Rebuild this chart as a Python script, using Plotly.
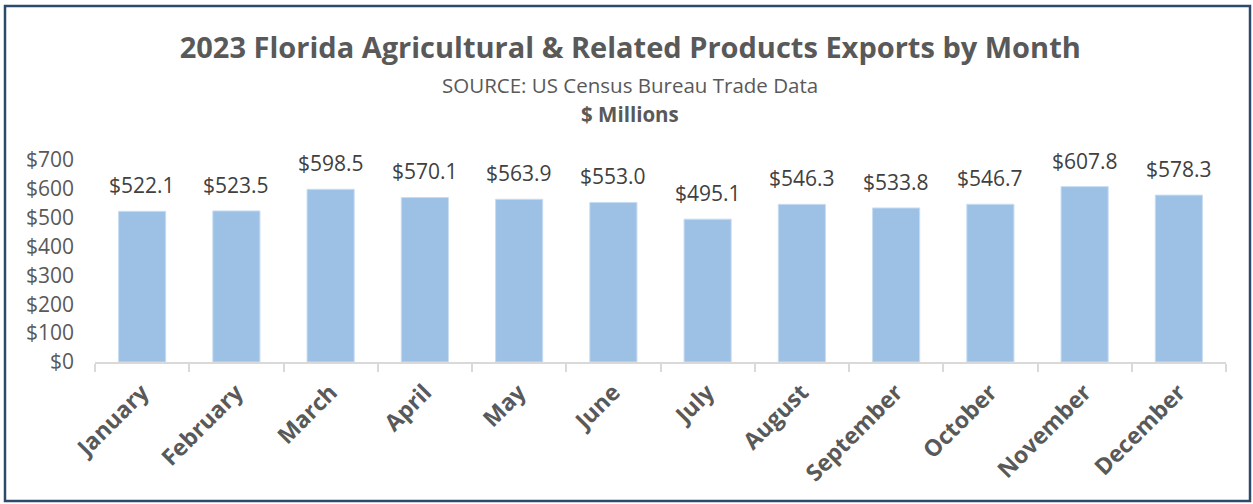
import plotly.graph_objects as go

months = ["January", "February", "March", "April", "May", "June", "July",
          "August", "September", "October", "November", "December"]
exports = [522.1, 523.5, 598.5, 570.1, 563.9, 553.0, 495.1, 546.3, 533.8, 546.7, 607.8, 578.3]
y_ticks = [0, 100, 200, 300, 400, 500, 600, 700]
y_tick_labels = ["$" + str(v) for v in y_ticks]

FONT = "Open Sans"
GRAY = "#595959"

fig = go.Figure()
fig.add_trace(go.Bar(
    x=months, y=exports,
    marker=dict(color="#9DC0E5", line=dict(color="#C9DDF2", width=1)),
    hoverinfo="skip",
))

L, R, T, B = 95, 27, 160, 142
W, H = 1253, 504
pw, ph = W - L - R, H - T - B

def px_x(p):
    return (p - L) / pw

def px_y(p):
    return (H - B - p) / ph

value_labels = [dict(x=m, y=v, xref="x", yref="y", text=f"${v:.1f}", showarrow=False,
                     xanchor="center", yanchor="middle", yshift=26,
                     font=dict(family=FONT, size=21, color="#404040"))
                for m, v in zip(months, exports)]

fig.update_layout(
    width=W, height=H,
    margin=dict(l=L, r=R, t=T, b=B, autoexpand=False),
    paper_bgcolor="white", plot_bgcolor="white",
    showlegend=False, bargap=0.5,
    title=dict(text="<b>2023 Florida Agricultural & Related Products Exports by Month</b>",
               x=0.503, xref="container", xanchor="center",
               y=1 - 48 / H, yref="container", yanchor="middle",
               font=dict(family=FONT, size=29, color=GRAY)),
    annotations=[
        dict(text="SOURCE: US Census Bureau Trade Data", xref="paper", yref="paper",
             x=px_x(630), y=px_y(85), xanchor="center", yanchor="middle", showarrow=False,
             font=dict(family=FONT, size=20.5, color=GRAY)),
        dict(text="<b>$ Millions</b>", xref="paper", yref="paper",
             x=px_x(630), y=px_y(114), xanchor="center", yanchor="middle", showarrow=False,
             font=dict(family=FONT, size=20.5, color=GRAY)),
    ] + value_labels,
    shapes=[dict(type="rect", xref="paper", yref="paper",
                 x0=px_x(5), x1=px_x(1250), y0=px_y(501), y1=px_y(6),
                 line=dict(color="#2E4A6B", width=2.5), layer="below")],
)
fig.update_xaxes(
    automargin=False,
    showline=True, linecolor="#D9D9D9", linewidth=1.5,
    ticks="outside", tickson="boundaries", ticklen=8, tickcolor="#D9D9D9", tickwidth=1.5,
    tickangle=-45, tickfont=dict(family=FONT, size=23, color=GRAY, weight="bold"),
    ticklabelstandoff=6, showgrid=False,
)
fig.update_yaxes(
    automargin=False,
    range=[0, 700], tickvals=y_ticks, ticktext=y_tick_labels,
    showgrid=False, zeroline=False, showline=False, ticks="",
    tickfont=dict(family=FONT, size=21, color=GRAY), ticklabelstandoff=20,
)
fig.write_html("out.html", config={"displayModeBar": False},
               post_script="document.body.style.margin='0';document.body.style.overflow='hidden';")
